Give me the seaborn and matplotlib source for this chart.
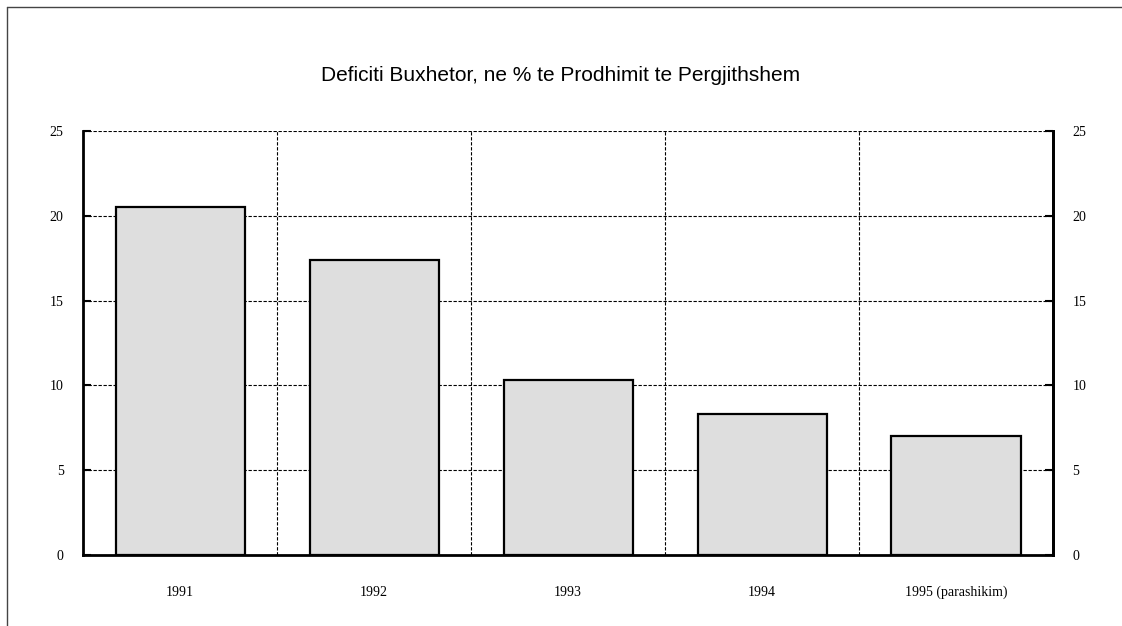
import matplotlib
matplotlib.use("Agg")
import matplotlib.pyplot as plt
from matplotlib.lines import Line2D
import seaborn as sns
import pandas as pd

years = ["1991", "1992", "1993", "1994", "1995 (parashikim)"]
deficit = [20.5, 17.4, 10.3, 8.3, 7.0]
y_ticks = [0, 5, 10, 15, 20, 25]

df = pd.DataFrame({"year": years, "deficit": deficit})

sns.set_style("white")
plt.rcParams["font.family"] = ["Liberation Serif", "DejaVu Serif"]
plt.rcParams["text.color"] = "black"
plt.rcParams["xtick.color"] = "black"
plt.rcParams["ytick.color"] = "black"

fig = plt.figure(figsize=(11.22, 6.26), dpi=100)
ax = fig.add_axes([0.074, 0.1134, 0.8645, 0.6773])

sns.barplot(data=df, x="year", y="deficit", color="#dedede", edgecolor="black",
            linewidth=1.6, width=0.665, saturation=1, ax=ax, zorder=3)

ax.set_xlim(-0.5, len(years) - 0.5)
ax.set_ylim(0, 25)
ax.set_yticks(y_ticks)
ax.set_yticklabels([str(t) for t in y_ticks])
ax.set_xticks(range(len(years)))
ax.set_xticklabels(years)
ax.set_xticks([i + 0.5 for i in range(len(years) - 1)], minor=True)
ax.tick_params(axis="x", which="major", length=0, pad=22, labelsize=10)
ax.tick_params(axis="x", which="minor", direction="in", length=5, width=1.2)
ax.tick_params(axis="y", direction="in", length=6, width=1.5, pad=14, labelsize=10)
ax.grid(axis="y", which="major", linestyle=(0, (3, 1.5)), color="black", linewidth=0.8)
ax.grid(axis="x", which="minor", linestyle=(0, (3, 1.5)), color="black", linewidth=0.8)
ax.grid(axis="x", which="major", visible=False)
ax.set_axisbelow(True)
ax.set_xlabel("")
ax.set_ylabel("")
ax.spines["top"].set_visible(False)
for side in ["left", "right", "bottom"]:
    ax.spines[side].set_linewidth(2)
    ax.spines[side].set_color("black")

ax2 = ax.twinx()
ax2.set_ylim(0, 25)
ax2.set_yticks(y_ticks)
ax2.set_yticklabels([str(t) for t in y_ticks])
ax2.tick_params(axis="y", direction="in", length=6, width=1.5, pad=14, labelsize=10)
for side in ["top", "left", "bottom"]:
    ax2.spines[side].set_visible(False)
ax2.spines["right"].set_linewidth(2)
ax2.spines["right"].set_color("black")

fig.text(0.5, 0.88, "Deficiti Buxhetor, ne % te Prodhimit te Pergjithshem",
         ha="center", va="center", fontsize=15, color="black",
         family=["Liberation Sans", "DejaVu Sans"])

fig.add_artist(Line2D([0.0065, 0.0065], [0, 0.989], transform=fig.transFigure, color="#444444", linewidth=1))
fig.add_artist(Line2D([0.0065, 1.0], [0.989, 0.989], transform=fig.transFigure, color="#444444", linewidth=1))

fig.savefig("out.png", dpi=100)
